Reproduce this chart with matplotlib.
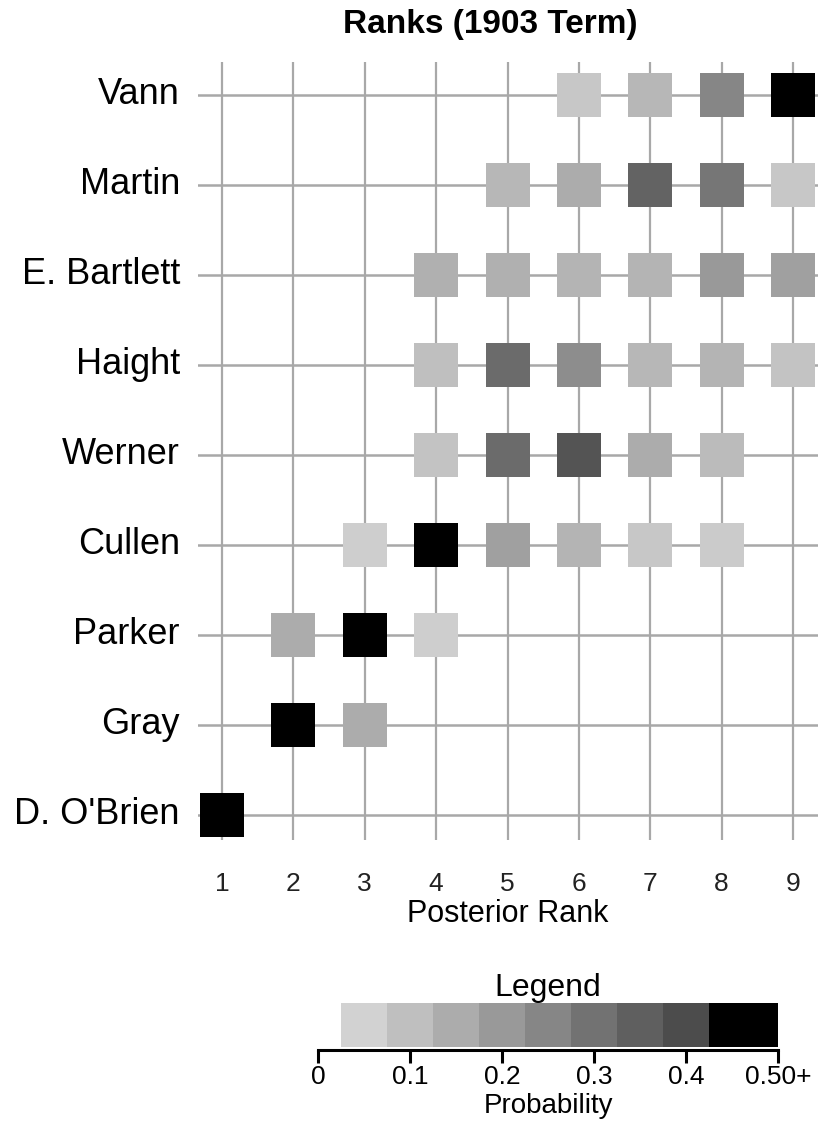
import matplotlib
matplotlib.use("Agg")
import matplotlib.pyplot as plt
from matplotlib.patches import Rectangle
import numpy as np

plt.rcParams['font.family'] = ['Liberation Sans', 'DejaVu Sans']

justices = ["Vann", "Martin", "E. Bartlett", "Haight", "Werner",
            "Cullen", "Parker", "Gray", "D. O'Brien"]
ranks = [1, 2, 3, 4, 5, 6, 7, 8, 9]

# posterior probability of each rank (0 = not shown)
prob = {
    "Vann":        [0, 0, 0, 0, 0, 0.08, 0.12, 0.25, 0.60],
    "Martin":      [0, 0, 0, 0, 0.12, 0.15, 0.34, 0.29, 0.08],
    "E. Bartlett": [0, 0, 0, 0.14, 0.14, 0.13, 0.13, 0.20, 0.18],
    "Haight":      [0, 0, 0, 0.10, 0.32, 0.23, 0.12, 0.13, 0.09],
    "Werner":      [0, 0, 0, 0.09, 0.32, 0.38, 0.15, 0.11, 0],
    "Cullen":      [0, 0, 0.06, 0.60, 0.18, 0.13, 0.08, 0.07, 0],
    "Parker":      [0, 0.15, 0.60, 0.06, 0, 0, 0, 0, 0],
    "Gray":        [0, 0.60, 0.15, 0, 0, 0, 0, 0, 0],
    "D. O'Brien":  [0.60, 0, 0, 0, 0, 0, 0, 0, 0],
}

legend_edges = [0.025, 0.075, 0.125, 0.175, 0.225, 0.275, 0.325, 0.375, 0.425, 0.50]
legend_ticks = [0, 0.1, 0.2, 0.3, 0.4, 0.5]
legend_ticklabels = ["0", "0.1", "0.2", "0.3", "0.4", "0.50+"]


def shade(p):
    if p >= 0.425:
        return (0, 0, 0)
    g = 0.90 - (p / 0.425) * 0.64
    g = min(max(g, 0.24), 0.88)
    return (g, g, g)


W, H = 819, 1128
fig = plt.figure(figsize=(W / 100, H / 100), dpi=100)

ax_l, ax_r, ax_t, ax_b = 198, 818, 62, 840
ax = fig.add_axes([ax_l / W, 1 - ax_b / H, (ax_r - ax_l) / W, (ax_b - ax_t) / H])
px_x = (793 - 222) / 8
x0 = 1 - (222 - ax_l) / px_x
x1 = 9 + (ax_r - 793) / px_x
ax.set_xlim(x0, x1)
row_px = 90
y_top = 0 - (95 - ax_t) / row_px
y_bot = 8 + (ax_b - 815) / row_px
ax.set_ylim(y_bot, y_top)

gc = '#a8a8a8'
for r in ranks:
    ax.axvline(r, color=gc, lw=1.6, zorder=1)
for i in range(len(justices)):
    ax.axhline(i, color=gc, lw=1.8, zorder=1)

sw = 44 / px_x
sh = 44 / row_px
for i, j in enumerate(justices):
    for r, p in zip(ranks, prob[j]):
        if p > 0:
            ax.add_patch(Rectangle((r - sw / 2, i - sh / 2), sw, sh,
                                   facecolor=shade(p), edgecolor='none', zorder=3))

for s in ax.spines.values():
    s.set_visible(False)
ax.set_xticks(ranks)
ax.set_xticklabels([str(r) for r in ranks], fontsize=19, color='#222222')
ax.set_yticks(range(len(justices)))
ax.set_yticklabels(justices, fontsize=26)
for lbl in ax.get_yticklabels():
    lbl.set_verticalalignment('center')
ax.tick_params(axis='x', length=0, pad=23)
ax.tick_params(axis='y', length=0, pad=13)
ax.set_xlabel("Posterior Rank", fontsize=22, labelpad=2)

fig.text(490 / W, 1 - 25 / H, "Ranks (1903 Term)", fontsize=24, fontweight='bold',
         ha='center', va='center')

# Legend
lg_l, lg_r, lg_t, lg_b = 318, 778, 1003, 1050
lax = fig.add_axes([lg_l / W, 1 - lg_b / H, (lg_r - lg_l) / W, (lg_b - lg_t) / H])
lax.set_xlim(0, 0.5)
lax.set_ylim(0, 1)
for a, b in zip(legend_edges[:-1], legend_edges[1:]):
    mid = (a + b) / 2
    lax.add_patch(Rectangle((a, 0.07), b - a, 0.93, facecolor=shade(mid if b < 0.5 else 0.5),
                            edgecolor='none'))
for s in ['top', 'left', 'right']:
    lax.spines[s].set_visible(False)
lax.spines['bottom'].set_linewidth(2.2)
lax.set_yticks([])
lax.set_xticks(legend_ticks)
lax.set_xticklabels(legend_ticklabels, fontsize=19)
lax.tick_params(axis='x', length=9, width=2.2, pad=2)
lax.set_xlabel("Probability", fontsize=20, labelpad=3)
lax.set_title("Legend", fontsize=23, pad=1)

fig.savefig("out.png", dpi=100)
